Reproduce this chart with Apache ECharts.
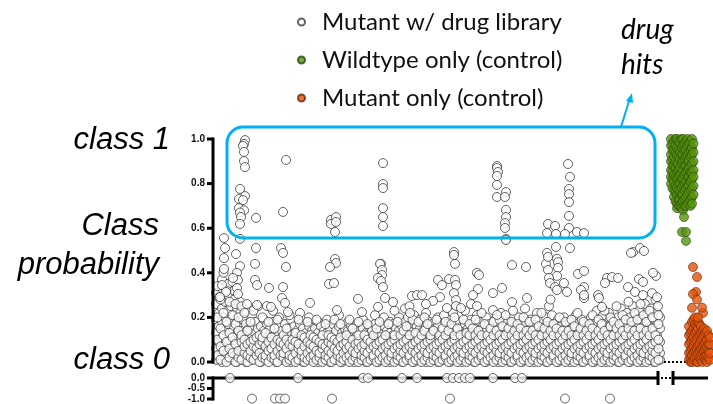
<!DOCTYPE html>
<html>
<head>
<meta charset="utf-8">
<script src="https://cdn.jsdelivr.net/npm/echarts@6/dist/echarts.min.js"></script>
<style>
  html, body { margin: 0; padding: 0; background: #fff; }
  #chart { width: 713px; height: 404px; }
</style>
</head>
<body>
<div id="chart"></div>
<script>
// well position (x) , class probability (y)
// dense low band of the drug library, one row per column: [x, y, y, ...]
const lowCols = [
  [216, .01, .06, .13, .19, .26, .31], [219, .03, .09, .16, .22, .29], [222, .00, .04, .11, .18, .24, .33, .37],
  [225, .02, .07, .14, .20, .27], [228, .05, .10, .17, .23, .30, .35], [231, .01, .08, .12, .19, .25],
  [234, .03, .06, .15, .21, .28, .32], [237, .00, .09, .13, .18, .24], [240, .04, .07, .11, .16, .22, .27],
  [243, .02, .06, .14, .19], [246, .00, .05, .10, .17, .23], [249, .03, .08, .12, .15],
  [252, .01, .06, .11, .16, .21], [255, .04, .09, .13, .18], [258, .02, .05, .10, .15, .25],
  [261, .00, .07, .12, .16], [264, .03, .06, .09, .14, .19], [267, .01, .05, .11, .17],
  [270, .04, .08, .13, .15], [273, .02, .06, .10, .18, .23], [276, .00, .04, .09, .13],
  [279, .03, .07, .12, .16, .20], [282, .01, .05, .11, .14], [285, .04, .08, .10, .17],
  [288, .02, .06, .13, .15], [291, .00, .03, .09, .12, .19], [294, .05, .07, .11, .16],
  [297, .01, .04, .10, .14], [300, .03, .08, .12, .17, .22], [303, .00, .06, .09, .15],
  [306, .02, .05, .11, .13], [309, .04, .07, .10, .16, .20], [312, .01, .03, .09, .14],
  [315, .02, .06, .12, .15], [318, .00, .05, .08, .13, .18], [321, .03, .07, .11, .16],
  [324, .01, .04, .10, .14], [327, .02, .06, .09, .13, .19], [330, .00, .05, .11, .15],
  [333, .04, .07, .12, .17], [336, .01, .03, .08, .14], [339, .02, .06, .10, .16, .21],
  [342, .00, .05, .09, .13], [345, .03, .07, .12, .15], [348, .01, .04, .10, .14, .18],
  [351, .02, .06, .11, .16], [354, .00, .05, .08, .13], [357, .04, .07, .12, .17],
  [360, .01, .03, .09, .14], [363, .02, .06, .10, .15, .19], [366, .00, .05, .11, .13],
  [369, .03, .08, .12, .16], [372, .01, .04, .09, .14], [375, .02, .06, .11, .17, .21],
  [378, .00, .05, .08, .13], [381, .04, .07, .12, .15], [384, .01, .03, .10, .16, .20],
  [387, .02, .06, .09, .14], [390, .00, .05, .11, .13, .18], [393, .03, .08, .12, .17],
  [396, .01, .04, .10, .15], [399, .02, .06, .09, .14, .20], [402, .00, .05, .11, .16],
  [405, .03, .07, .13, .18, .24], [408, .01, .04, .09, .15, .20], [411, .02, .06, .12, .14],
  [414, .00, .05, .10, .17, .21], [417, .04, .08, .13, .16], [420, .01, .03, .09, .15, .19],
  [423, .02, .06, .11, .14], [426, .00, .05, .10, .16, .22], [429, .03, .07, .12, .18],
  [432, .01, .04, .09, .13, .17], [435, .02, .06, .11, .15], [438, .00, .05, .10, .16, .20],
  [441, .03, .08, .12, .14], [444, .01, .04, .09, .15, .21], [447, .02, .06, .11, .17],
  [450, .00, .05, .13, .16], [453, .04, .07, .10, .15, .22], [456, .01, .03, .09, .14],
  [459, .02, .06, .12, .18], [462, .00, .05, .10, .16], [465, .03, .08, .13, .17, .23],
  [468, .01, .04, .11, .15], [471, .02, .06, .09, .14, .19], [474, .00, .05, .12, .16],
  [477, .04, .07, .10, .15, .21], [480, .01, .03, .09, .13, .18], [483, .02, .06, .11, .16],
  [486, .00, .05, .10, .14, .20], [489, .03, .08, .12, .17], [492, .01, .04, .09, .15],
  [495, .02, .06, .11, .14, .19], [498, .00, .05, .10, .16], [501, .04, .07, .13, .17, .22],
  [504, .01, .03, .09, .15], [507, .02, .06, .12, .14, .18], [510, .00, .05, .10, .16],
  [513, .03, .08, .11, .17, .23], [516, .01, .04, .09, .14], [519, .02, .06, .12, .15, .20],
  [522, .00, .05, .10, .16], [525, .04, .07, .13, .18, .24], [528, .01, .03, .09, .14],
  [531, .02, .06, .11, .15, .19], [534, .00, .05, .10, .16], [537, .03, .08, .12, .17, .22],
  [540, .01, .04, .09, .13, .19], [543, .02, .06, .11, .15], [546, .00, .05, .10, .14, .20],
  [549, .04, .07, .12, .16, .25], [552, .01, .03, .09, .15, .21], [555, .02, .06, .11, .17],
  [558, .00, .05, .10, .14, .19], [561, .03, .08, .12, .16], [564, .01, .04, .09, .15, .20],
  [567, .02, .06, .13, .17], [570, .00, .05, .10, .14, .18], [573, .04, .07, .11, .16],
  [576, .01, .03, .09, .15, .21], [579, .02, .06, .12, .14], [582, .00, .05, .10, .16, .19],
  [585, .03, .08, .13, .17], [588, .01, .04, .09, .15], [591, .02, .06, .11, .14, .20],
  [594, .00, .05, .10, .16], [597, .04, .07, .12, .18, .23], [600, .01, .03, .09, .15],
  [603, .02, .06, .11, .17, .21], [606, .00, .05, .10, .14], [609, .03, .08, .12, .16, .22],
  [612, .01, .04, .09, .15, .19], [615, .02, .06, .13, .17], [618, .00, .05, .10, .14, .20],
  [621, .04, .07, .11, .16, .24], [624, .01, .03, .09, .15, .18], [627, .02, .06, .12, .17, .22],
  [630, .00, .05, .10, .14, .20], [633, .03, .08, .13, .16, .25], [636, .01, .04, .09, .15, .21],
  [639, .02, .06, .11, .17, .23], [642, .00, .05, .10, .14, .19], [645, .04, .07, .12, .18, .26],
  [648, .01, .03, .09, .15, .21], [651, .02, .06, .11, .16, .24], [654, .00, .05, .10, .14, .19],
  [657, .03, .08, .12, .17, .22], [660, .01, .04, .09, .15, .20]
];

// second, offset pass over the same band (it is packed tight near zero)
const lowColsB = [
  [217.5, .03, .10, .20, .34], [220.5, .01, .07, .15, .28], [223.5, .05, .12, .22, .40], [226.5, .00, .09, .18, .32],
  [229.5, .02, .06, .13, .27], [232.5, .04, .11, .21, .36], [235.5, .00, .08, .17, .26], [238.5, .02, .05, .14, .20],
  [241.5, .01, .09, .12, .25], [244.5, .04, .07, .10, .22], [247.5, .00, .03, .08, .14], [250.5, .02, .05, .09, .18],
  [253.5, .01, .07, .10, .23], [256.5, .03, .06, .11], [259.5, .00, .04, .08, .12], [262.5, .02, .09, .11, .20],
  [265.5, .01, .03, .07, .13], [268.5, .00, .05, .09, .18], [271.5, .02, .06, .11], [274.5, .01, .03, .08, .15],
  [277.5, .00, .05, .10, .19], [280.5, .03, .07, .09], [283.5, .02, .04, .08, .12], [286.5, .00, .06, .10, .15],
  [289.5, .01, .03, .08, .21], [292.5, .02, .07, .10], [295.5, .00, .04, .09, .13], [298.5, .01, .06, .08, .19],
  [301.5, .03, .05, .12], [304.5, .00, .02, .07, .11], [307.5, .01, .04, .09, .18], [310.5, .02, .06, .08, .12],
  [313.5, .00, .03, .07, .11], [316.5, .01, .05, .10, .19], [319.5, .02, .04, .09], [322.5, .00, .06, .08, .12],
  [325.5, .01, .03, .07, .17], [328.5, .02, .05, .09, .12], [331.5, .00, .04, .08, .11], [334.5, .01, .06, .10, .19],
  [337.5, .03, .05, .09], [340.5, .00, .02, .07, .11, .17], [343.5, .01, .04, .08], [346.5, .02, .06, .09, .12],
  [349.5, .00, .03, .07, .19], [352.5, .01, .05, .10, .15], [355.5, .02, .04, .08], [358.5, .00, .06, .09, .12, .18],
  [361.5, .01, .03, .07], [364.5, .02, .05, .08, .12], [367.5, .00, .04, .10, .17], [370.5, .01, .06, .09],
  [373.5, .02, .03, .07, .12], [376.5, .00, .05, .08, .15], [379.5, .01, .04, .09, .18], [382.5, .02, .06, .10],
  [385.5, .00, .03, .07, .12], [388.5, .01, .05, .08, .17], [391.5, .02, .04, .09], [394.5, .00, .06, .10, .12, .23],
  [397.5, .01, .03, .07, .18], [400.5, .02, .05, .08, .12], [403.5, .00, .04, .09, .14], [406.5, .01, .06, .10, .16],
  [409.5, .02, .03, .07, .12, .25], [412.5, .00, .05, .08, .19], [415.5, .01, .04, .09, .13], [418.5, .02, .06, .10, .18],
  [421.5, .00, .03, .07, .12], [424.5, .01, .05, .08, .14, .20], [427.5, .02, .04, .09, .17], [430.5, .00, .06, .10, .12],
  [433.5, .01, .03, .07, .14], [436.5, .02, .05, .08, .19], [439.5, .00, .04, .09, .12], [442.5, .01, .06, .10, .15],
  [445.5, .02, .03, .07, .12, .18], [448.5, .00, .05, .08, .14], [451.5, .01, .04, .09, .17], [454.5, .02, .06, .10, .12, .20],
  [457.5, .00, .03, .07, .15], [460.5, .01, .05, .08, .12], [463.5, .02, .04, .09, .19], [466.5, .00, .06, .10, .13],
  [469.5, .01, .03, .07, .12, .17], [472.5, .02, .05, .08, .15], [475.5, .00, .04, .09, .12, .19], [478.5, .01, .06, .10, .14],
  [481.5, .02, .03, .07, .12, .22], [484.5, .00, .05, .08, .17], [487.5, .01, .04, .09, .12], [490.5, .02, .06, .10, .15],
  [493.5, .00, .03, .07, .12, .18], [496.5, .01, .05, .08, .14], [499.5, .02, .04, .09, .12, .19], [502.5, .00, .06, .10, .16],
  [505.5, .01, .03, .07, .12, .21], [508.5, .02, .05, .08, .15], [511.5, .00, .04, .09, .12, .18], [514.5, .01, .06, .10, .14],
  [517.5, .02, .03, .07, .12, .17], [520.5, .00, .05, .08, .15], [523.5, .01, .04, .09, .12, .20], [526.5, .02, .06, .10, .14],
  [529.5, .00, .03, .07, .12, .18], [532.5, .01, .05, .08, .14], [535.5, .02, .04, .09, .12, .19], [538.5, .00, .06, .10, .16],
  [541.5, .01, .03, .07, .12, .22], [544.5, .02, .05, .08, .15], [547.5, .00, .04, .09, .12, .18], [550.5, .01, .06, .10, .14, .28],
  [553.5, .02, .03, .07, .12, .17], [556.5, .00, .05, .08, .15], [559.5, .01, .04, .09, .12, .20], [562.5, .02, .06, .10, .14],
  [565.5, .00, .03, .07, .12, .18], [568.5, .01, .05, .08, .14], [571.5, .02, .04, .09, .12, .19], [574.5, .00, .06, .10, .16],
  [577.5, .01, .03, .07, .12, .22], [580.5, .02, .05, .08, .15], [583.5, .00, .04, .09, .12, .18], [586.5, .01, .06, .10, .14],
  [589.5, .02, .03, .07, .12, .17], [592.5, .00, .05, .08, .15, .21], [595.5, .01, .04, .09, .12], [598.5, .02, .06, .10, .14, .19],
  [601.5, .00, .03, .07, .12, .17], [604.5, .01, .05, .08, .14, .23], [607.5, .02, .04, .09, .12], [610.5, .00, .06, .10, .16, .20],
  [613.5, .01, .03, .07, .12, .18], [616.5, .02, .05, .08, .15, .25], [619.5, .00, .04, .09, .12, .17], [622.5, .01, .06, .10, .14, .21],
  [625.5, .02, .03, .07, .12, .19], [628.5, .00, .05, .08, .15, .27], [631.5, .01, .04, .09, .12, .18], [634.5, .02, .06, .10, .14, .22],
  [637.5, .00, .03, .07, .12, .19], [640.5, .01, .05, .08, .15, .26], [643.5, .02, .04, .09, .12, .21], [646.5, .00, .06, .10, .14, .18],
  [649.5, .01, .03, .07, .12, .23], [652.5, .02, .05, .08, .15, .20], [655.5, .00, .04, .09, .12, .28], [658.5, .01, .06, .10, .17, .21]
];

// scattered library wells above the band, incl. the drug hits
const libraryHigh = [
  [245, .995], [244, .978], [243, .969], [244, .942], [244, .901], [245, .874], [240, .776], [245, .744],
  [239, .731], [243, .726], [239, .69], [244, .68], [240, .67], [241, .65], [240, .619], [256, .646],
  [286, .906], [283, .673], [331, .637], [336, .65], [331, .619], [336, .628], [335, .583],
  [383, .892], [383, .798], [383, .78], [383, .69], [383, .65], [383, .61],
  [497, .879], [497, .87], [498, .852], [497, .834], [497, .794], [506, .762], [497, .74], [505, .74],
  [506, .682], [506, .65], [505, .623], [505, .601], [506, .552], [506, .547],
  [568, .888], [570, .83], [569, .776], [569, .753], [569, .717], [569, .655], [569, .601],
  [548, .619], [555, .61], [547, .578], [556, .574], [565, .574], [577, .583], [584, .578],
  [224, .556], [240, .552], [225, .511], [236, .484], [224, .466], [256, .511], [255, .44],
  [281, .511], [283, .489], [286, .426], [335, .462], [336, .444], [330, .426], [381, .44], [240, .43],
  [556, .516], [570, .511], [547, .489], [454, .493], [454, .48], [455, .44], [512, .435], [526, .426],
  [546, .44], [557, .463], [633, .493], [640, .511], [644, .498], [631, .489], [548, .471],
  [224, .417], [237, .40], [238, .368], [233, .377], [255, .368], [257, .345], [269, .332], [283, .336],
  [329, .35], [334, .354], [222, .345], [226, .314], [237, .332], [238, .305], [220, .291], [282, .287],
  [285, .265], [310, .265], [247, .26], [257, .256], [267, .251], [271, .247], [288, .224], [337, .233],
  [380, .44], [382, .413], [382, .39], [378, .377], [381, .363], [383, .336], [438, .368], [442, .345],
  [449, .372], [455, .368], [456, .345], [477, .40], [479, .39], [478, .327], [473, .30], [493, .309],
  [358, .283], [385, .287], [393, .269], [412, .296], [417, .30], [422, .30], [440, .291], [433, .274],
  [426, .26], [454, .309], [456, .278], [456, .251], [461, .242], [471, .26], [477, .251], [447, .242],
  [362, .224], [378, .247], [410, .22], [493, .233], [497, .211],
  [558, .448], [558, .422], [548, .413], [557, .386], [549, .377], [550, .354], [555, .336], [564, .354],
  [567, .314], [557, .323], [578, .395], [584, .408], [584, .336], [581, .323], [584, .287], [502, .332],
  [607, .377], [612, .381], [618, .377], [656, .386], [653, .40], [605, .354], [628, .336], [639, .372],
  [643, .359], [598, .30], [599, .287], [652, .309], [657, .291], [635, .314], [643, .30], [527, .287],
  [512, .269], [602, .247], [584, .30], [658, .25]
];

// library wells shown in the lower (negative) panel
const libraryZeroX = [230, 298, 363, 368, 402, 417, 447, 453, 459, 465, 470, 493, 515, 522];
const libraryNegX = [252, 275, 280, 285, 332, 450, 565, 610];

// wildtype only controls: [x, y, y, ...]
const wildtypeCols = [
  [671, 1.00, .97, .93, .90, .86, .83, .80], [672.5, .98, .95, .91, .88, .85, .82, .78],
  [674, .99, .95, .92, .88, .84, .81, .77, .74], [675.5, 1.00, .97, .94, .90, .87, .83, .79, .76, .72],
  [677, 1.00, .96, .93, .89, .85, .82, .78, .75, .71, .69], [678.5, .99, .95, .92, .89, .86, .83, .80, .77, .73, .70],
  [680, .98, .94, .91, .87, .84, .80, .76, .73, .70], [681.5, 1.00, .96, .93, .89, .85, .82, .78, .75, .71, .69],
  [683, 1.00, .97, .93, .90, .86, .82, .79, .75, .72, .68], [684.5, .98, .95, .91, .88, .84, .80, .77, .73, .70],
  [686, .99, .95, .92, .88, .85, .81, .78, .74, .70], [687.5, 1.00, .97, .93, .90, .86, .83, .79, .75, .71],
  [689, .98, .94, .90, .87, .83, .79, .76, .72], [690.5, .99, .95, .92, .88, .85, .81, .77, .73, .70],
  [692, 1.00, .96, .93, .89, .85, .82, .78, .74, .71], [693.5, .98, .94, .90, .86, .83, .79, .75]
];
const wildtypeLow = [[684, .65], [682, .583], [686, .583], [686, .543]];

// mutant only controls
const mutantCols = [
  [689, .01, .04, .08, .12, .16], [690.5, .00, .02, .05, .09, .13],
  [692, .00, .03, .06, .10, .14, .18], [693.5, .01, .04, .07, .11, .15, .19],
  [695, .02, .05, .09, .13, .17, .20], [696.5, .00, .03, .06, .10, .14, .16],
  [698, .00, .04, .07, .11, .15, .18], [699.5, .02, .05, .08, .12, .17],
  [701, .01, .03, .06, .10, .13, .16], [702.5, .00, .04, .07, .11, .14],
  [704, .02, .05, .08, .12, .15], [705.5, .01, .03, .06, .09, .13],
  [707, .00, .03, .07, .10, .14], [708.5, .02, .05, .08, .12],
  [710, .01, .04, .08, .11]
];
const mutantHigh = [[693, .426], [697, .381], [696, .314], [693, .305], [697, .28], [692, .243], [703, .22], [698, .20], [702, .244]];

// tick values of the two stacked y axes
const yTicks = [0, 0.2, 0.4, 0.6, 0.8, 1.0];
const lowerTicks = [-1, -0.5, 0];

function flatten(cols) {
  const out = [];
  cols.forEach((c) => {
    for (let i = 1; i < c.length; i++) out.push([c[0], c[i]]);
  });
  return out;
}

const libraryData = flatten(lowCols).concat(flatten(lowColsB), libraryHigh);
const libraryLower = libraryZeroX.map((x) => [x, 0]).concat(libraryNegX.map((x) => [x, -0.98]));
const wildtypeData = flatten(wildtypeCols).concat(wildtypeLow);
const mutantData = flatten(mutantCols).concat(mutantHigh);

var myChart = echarts.init(document.getElementById("chart"));

const yAxisStyle = {
  show: true,
  position: "left",
  axisLine: { show: false },
  axisTick: { show: false },
  axisLabel: {
    fontFamily: "Liberation Sans",
    fontSize: 10,
    fontWeight: "bold",
    color: "#111",
    margin: 8,
    showMinLabel: true,
    showMaxLabel: true,
    hideOverlap: false,
    formatter: (v) => v.toFixed(1),
  },
  splitLine: { show: false },
};

// x axes exist only to place the wells, nothing of them is drawn
const xAxisStyle = {
  type: "value",
  min: 213,
  max: 713,
  axisLine: { show: false },
  axisTick: { show: false },
  axisLabel: { show: false },
  splitLine: { show: false },
};

const libStyle = { color: "#fff", borderColor: "#3c3c3c", borderWidth: 1 };
const blue = "#00B0F0";
const italicFont = "italic 31px 'Liberation Sans'";

var option = {
  animation: false,
  legend: {
    orient: "vertical",
    left: 292,
    top: 5,
    itemGap: 14,
    itemWidth: 7,
    itemHeight: 7,
    icon: "circle",
    textStyle: { fontFamily: "Lato", fontSize: 24, color: "#111", padding: [0, 0, 0, 12] },
    data: ["Mutant w/ drug library", "Wildtype only (control)", "Mutant only (control)"],
  },
  grid: [
    { left: 213, right: 0, top: 139, height: 223 },
    { left: 213, right: 0, top: 378, height: 24 },
  ],
  xAxis: [
    Object.assign({ gridIndex: 0 }, xAxisStyle),
    Object.assign({ gridIndex: 1 }, xAxisStyle),
  ],
  yAxis: [
    Object.assign({ gridIndex: 0, type: "value", min: 0, max: 1, interval: 0.2 }, yAxisStyle),
    Object.assign({ gridIndex: 1, type: "value", min: -1, max: 0, interval: 0.5 }, yAxisStyle),
  ],
  series: [
    {
      name: "Mutant w/ drug library",
      type: "scatter",
      symbolSize: 9,
      itemStyle: libStyle,
      data: libraryData,
      z: 2,
    },
    {
      name: "Mutant w/ drug library",
      type: "scatter",
      xAxisIndex: 1,
      yAxisIndex: 1,
      symbolSize: 9,
      itemStyle: libStyle,
      clip: false,
      data: libraryLower,
      z: 5,
    },
    {
      name: "Wildtype only (control)",
      type: "scatter",
      symbolSize: 9,
      itemStyle: { color: "#559510", borderColor: "#2a4607", borderWidth: 0.8 },
      data: wildtypeData,
    },
    {
      name: "Mutant only (control)",
      type: "scatter",
      symbolSize: 9,
      itemStyle: { color: "#e2550e", borderColor: "#6a2605", borderWidth: 0.8 },
      data: mutantData,
    },
  ],
  graphic: [
    // left annotations
    { type: "text", style: { text: "class 1", x: 170, y: 140, font: italicFont, fill: "#000", textAlign: "right", textVerticalAlign: "middle" } },
    { type: "text", style: { text: "Class", x: 159, y: 226, font: italicFont, fill: "#000", textAlign: "right", textVerticalAlign: "middle" } },
    { type: "text", style: { text: "probability", x: 159, y: 265, font: italicFont, fill: "#000", textAlign: "right", textVerticalAlign: "middle" } },
    { type: "text", style: { text: "class 0", x: 170, y: 360, font: italicFont, fill: "#000", textAlign: "right", textVerticalAlign: "middle" } },
    { type: "text", style: { text: "drug", x: 621, y: 30, font: "italic 28px Lato", fill: "#000", textVerticalAlign: "middle" } },
    { type: "text", style: { text: "hits", x: 621, y: 65, font: "italic 28px Lato", fill: "#000", textVerticalAlign: "middle" } },
    // hit box and arrow
    { type: "rect", z: 10, shape: { x: 227, y: 127, width: 428, height: 111, r: 16 }, style: { fill: "none", stroke: blue, lineWidth: 3 } },
    { type: "line", z: 10, shape: { x1: 621, y1: 127, x2: 629, y2: 101 }, style: { stroke: blue, lineWidth: 2 } },
    { type: "polygon", z: 10, shape: { points: [[632, 93], [633, 103], [626, 101]] }, style: { fill: blue } },
    // dotted baseline to the controls
    { type: "line", z: 1, shape: { x1: 660, y1: 362, x2: 690, y2: 362 }, style: { stroke: "#000", lineWidth: 2, lineDash: [2, 2] } },
    // broken x axis of the lower panel
    { type: "line", z: 3, shape: { x1: 213, y1: 378, x2: 658, y2: 378 }, style: { stroke: "#000", lineWidth: 3 } },
    { type: "line", z: 3, shape: { x1: 673, y1: 378, x2: 708, y2: 378 }, style: { stroke: "#000", lineWidth: 3 } },
    { type: "line", z: 3, shape: { x1: 658, y1: 371, x2: 658, y2: 385 }, style: { stroke: "#000", lineWidth: 3 } },
    { type: "line", z: 3, shape: { x1: 673, y1: 371, x2: 673, y2: 385 }, style: { stroke: "#000", lineWidth: 3 } },
    { type: "line", z: 3, shape: { x1: 661, y1: 378, x2: 671, y2: 378 }, style: { stroke: "#000", lineWidth: 2, lineDash: [2, 2] } },
  ],
};

option && myChart.setOption(option);

// heavy GraphPad style y axis lines and ticks, placed through the axes' own scale
function axisMarks(gridIndex, ticks) {
  const marks = [];
  const x0 = 213;
  const top = myChart.convertToPixel({ gridIndex: gridIndex }, [x0, ticks[ticks.length - 1]]);
  const bot = myChart.convertToPixel({ gridIndex: gridIndex }, [x0, ticks[0]]);
  marks.push({
    type: "line", z: 20,
    shape: { x1: top[0], y1: top[1] - 1.5, x2: bot[0], y2: bot[1] + 1.5 },
    style: { stroke: "#000", lineWidth: 3 },
  });
  ticks.forEach((v) => {
    const p = myChart.convertToPixel({ gridIndex: gridIndex }, [x0, v]);
    marks.push({
      type: "line", z: 20,
      shape: { x1: p[0] - 6, y1: p[1], x2: p[0], y2: p[1] },
      style: { stroke: "#000", lineWidth: 3 },
    });
  });
  return marks;
}

option.graphic = option.graphic.concat(axisMarks(0, yTicks), axisMarks(1, lowerTicks));
myChart.setOption(option);
</script>
</body>
</html>
